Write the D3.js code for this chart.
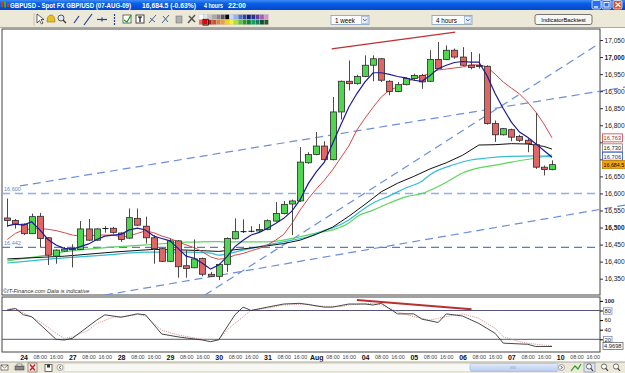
<!DOCTYPE html>
<html><head><meta charset="utf-8">
<script src="https://cdnjs.cloudflare.com/ajax/libs/d3/7.8.5/d3.min.js"></script>
<style>
body{margin:0;padding:0;background:#fff;overflow:hidden}
svg{display:block;font-family:"Liberation Sans",Arial,sans-serif}
</style></head><body>
<svg id="c" width="625" height="373"></svg>
<script>
// ---------------- DATA ----------------
const open  = [16528,16521,16510,16482,16533,16470,16416,16431,16435,16436,16496,16463,16496,16498,16484,16469,16527,16504,16470,16438,16401,16461,16388,16382,16409,16363,16357,16392,16467,16488,16488,16490,16494,16519,16541,16569,16578,16690,16714,16739,16699,16839,16929,16922,16943,16976,16995,16929,16899,16919,16937,16946,16929,16993,16993,17020,17000,16976,16975,16973,16805,16772,16787,16767,16756,16743,16677,16670];
const high  = [16585,16525,16512,16541,16543,16472,16436,16443,16451,16519,16525,16498,16504,16502,16486,16556,16556,16532,16478,16440,16468,16463,16434,16465,16412,16370,16394,16471,16527,16524,16504,16510,16524,16575,16578,16582,16736,16721,16780,16753,16883,16931,16990,16948,17005,17005,16997,16932,16927,16941,16951,16951,17020,17044,17034,17025,17029,17015,17010,16976,16814,16792,16790,16772,16761,16836,16682,16697];
const low   = [16502,16497,16478,16481,16441,16390,16394,16429,16383,16434,16461,16461,16485,16482,16458,16467,16504,16453,16394,16399,16399,16353,16353,16381,16357,16355,16346,16370,16465,16484,16486,16487,16492,16517,16539,16478,16575,16687,16712,16697,16697,16817,16902,16919,16941,16929,16927,16888,16897,16917,16932,16907,16927,16964,16991,16995,16974,16964,16966,16802,16751,16770,16753,16751,16721,16672,16653,16668];
const close = [16521,16510,16482,16532,16468,16419,16434,16437,16438,16496,16463,16496,16497,16486,16465,16529,16507,16470,16438,16401,16461,16385,16380,16408,16363,16357,16392,16468,16488,16488,16489,16494,16520,16541,16568,16578,16692,16714,16739,16699,16839,16929,16922,16943,16976,16995,16932,16899,16919,16937,16946,16927,16993,16966,17020,17000,16976,16969,16972,16805,16772,16790,16765,16756,16746,16677,16670,16684.5];

const timeLabels = ["24","08:00","16:00","27","08:00","16:00","28","08:00","16:00","29","08:00","16:00","30","08:00","16:00","31","08:00","16:00","Aug","08:00","16:00","04","08:00","16:00","05","08:00","16:00","06","08:00","16:00","07","08:00","16:00","10","08:00","16:00"];
const priceTicks = [17050,17000,16950,16900,16850,16800,16750,16700,16650,16600,16550,16500,16450,16400,16350];
const boldPrices = [17000,16500];
const oscTicks = [100,80,60,40,20];
const oscBoxed = [80,20];

// moving averages
const maNavy = [16505,16510,16507,16517,16493,16465,16449,16439,16437,16444,16452,16465,16475,16478,16480,16493,16498,16493,16475,16468,16461,16439,16416,16410,16395,16378,16390,16414,16444,16463,16478,16486,16498,16512,16527,16548,16581,16628,16663,16692,16746,16800,16853,16893,16927,16954,16954,16949,16943,16939,16932,16929,16946,16966,16976,16984,16987,16985,16985,16946,16893,16849,16809,16780,16765,16746,16726,16706];
const maRed = [16465,16483,16493,16496,16497,16495,16491,16485,16478,16475,16476,16478,16478,16478,16473,16475,16483,16490,16485,16475,16468,16458,16449,16441,16429,16414,16407,16410,16419,16424,16432,16439,16449,16463,16480,16512,16551,16584,16613,16639,16669,16704,16739,16786,16821,16853,16883,16903,16912,16927,16936,16944,16953,16962,16965,16968,16971,16977,16977,16971,16950,16927,16909,16892,16868,16839,16804,16763];
const blackIdx = [0,7,13,18,22,26,30,34,36,38,40,42,44,46,48,50,52,54,56,58,60,62,64,66,67];
const blackVal = [16408,16416,16428,16436,16434,16430,16440,16453,16463,16480,16501,16533,16568,16605,16630,16650,16672,16690,16712,16742,16743,16746,16745,16738,16730];
const cyanIdx = [0,7,12,17,22,25,26,29,32,35,37,39,40,42,43,45,47,49,51,52,55,57,59,62,65,67];
const cyanVal = [16396,16411,16419,16428,16428,16425,16419,16434,16449,16463,16473,16492,16499,16522,16540,16572,16593,16616,16636,16655,16685,16698,16704,16709,16710,16707];
const greenIdx = [0,4,7,11,17,22,25,27,32,34,36,38,40,42,43,45,47,49,51,54,56,58,60,62,65,67];
const greenVal = [16402,16416,16429,16439,16449,16457,16459,16458,16458,16463,16473,16484,16493,16513,16532,16551,16572,16590,16600,16633,16660,16675,16683,16692,16704,16713];

// stochastic oscillator
const kIdx = [0,1,2,3,6,7,8,11,12,14,16,17,19,21,24,25,26,28,29,30,32,34,36,39,40,42,44,45,46,48,50,51,53,54,56,58,60,61,64,65,67];
const kVal = [81,84,71,67,20,18.5,22,60,71,66,73,71,31,25,18.5,15,19,71,87,80,87,93.5,95,87,87,93.5,93.5,91.5,95,73,73,62,55,73,68.5,53,32.5,12,9.6,5,4.9698];
const dIdx = [0,1,2,4,6,7,8,10,11,13,15,16,17,19,21,24,26,27,29,30,32,34,37,38,41,42,45,46,48,50,52,53,55,56,58,60,61,63,64,66,67];
const dVal = [82.5,84.6,75,57,32.5,22,25,39,53,66,68.5,72,68.5,39,29,20,18.5,39,67,81,85,91.5,93.5,89.5,88,91.5,95,91.5,77.5,67,60,63.7,70.6,72.7,63.7,43,25.4,15,11.7,8,6.7];

// drawn annotations: [idxStart, priceStart, idxEnd, priceEnd]
const hLines = [16600, 16442];
const channelUpper = [1.56,16622,76,16912];
const channelLower = [12.0,16302,76,16566];
const steepLine    = [24.3,16302,72.9,17041];
const resistLine   = [39.9,17024,55.1,17073];
const oscDivLine   = [43.0,101.9,57.1,82.5];

// ---------------- LAYOUT ----------------
const svg = d3.select("#c");
const PL=2, PR=600, PT=29, PB=295, OT=297, OB=352;
const x  = d3.scaleLinear().domain([0,73]).range([7.3,600.8]);
const y  = d3.scaleLinear().domain([16350,17050]).range([278.7,40]);
const yo = d3.scaleLinear().domain([0,100]).range([348.9,300.9]);

svg.append("rect").attr("width",625).attr("height",373).attr("fill","#fff");

const defs = svg.append("defs");
const tg = defs.append("linearGradient").attr("id","tb").attr("x1",0).attr("y1",0).attr("x2",0).attr("y2",1);
tg.append("stop").attr("offset","0%").attr("stop-color","#3d8bf5");
tg.append("stop").attr("offset","35%").attr("stop-color","#0a5fe6");
tg.append("stop").attr("offset","100%").attr("stop-color","#0446c9");
defs.append("clipPath").attr("id","mainclip").append("rect").attr("x",PL).attr("y",PT).attr("width",625-PL).attr("height",PB-PT);
defs.append("clipPath").attr("id","plotclip").append("rect").attr("x",PL).attr("y",PT).attr("width",PR-PL).attr("height",PB-PT);
const sg = defs.append("linearGradient").attr("id","thumb").attr("x1",0).attr("y1",0).attr("x2",0).attr("y2",1);
sg.append("stop").attr("offset","0%").attr("stop-color","#e3ecfb");
sg.append("stop").attr("offset","100%").attr("stop-color","#b5cbf0");

// ---------- title bar ----------
svg.append("rect").attr("x",0).attr("y",0).attr("width",625).attr("height",10).attr("fill","url(#tb)");
svg.append("rect").attr("x",1).attr("y",2).attr("width",2).attr("height",5).attr("fill","#e03030");
svg.append("rect").attr("x",4).attr("y",1.5).attr("width",2).attr("height",6).attr("fill","#20c020");
svg.append("rect").attr("x",7).attr("y",3).attr("width",2).attr("height",4).attr("fill","#e03030");
const tt = svg.append("g").attr("font-size",6.8).attr("font-weight","bold").attr("fill","#fff");
[["GBPUSD - Spot FX GBP/USD (07-AUG-09)",10,121],["16,684.5 (-0.63%)",142,54],["4 hours",204,19],["22:00",228,18]].forEach(([t,tx,tl])=>{
  tt.append("text").attr("x",tx).attr("y",7.8).attr("textLength",tl).attr("lengthAdjust","spacingAndGlyphs").text(t);
});
[[592,"#2a6ff0"],[602,"#2a6ff0"],[613,"#e0502a"]].forEach(([bx,c])=>{
  svg.append("rect").attr("x",bx).attr("y",0.5).attr("width",9).attr("height",8.5).attr("rx",1.5).attr("fill",c).attr("stroke","#fff").attr("stroke-width",0.7);
});
svg.append("line").attr("x1",594).attr("x2",598).attr("y1",7).attr("y2",7).attr("stroke","#fff").attr("stroke-width",1.3);
svg.append("rect").attr("x",604).attr("y",2.5).attr("width",5).attr("height",4.5).attr("fill","none").attr("stroke","#fff").attr("stroke-width",0.9);
svg.append("path").attr("d","M615.5,2.5L620.5,7M620.5,2.5L615.5,7").attr("stroke","#fff").attr("stroke-width",1.3);

// ---------- toolbar ----------
svg.append("rect").attr("x",0).attr("y",10).attr("width",625).attr("height",18).attr("fill","#ece9d8");
svg.append("line").attr("x1",0).attr("x2",625).attr("y1",27.5).attr("y2",27.5).attr("stroke","#aca899");
svg.append("line").attr("x1",34).attr("x2",34).attr("y1",13).attr("y2",26).attr("stroke","#c8c4b0");
const tb = svg.append("g");
tb.append("path").attr("d","M37,14 L37,23 L39.5,20.5 L41.5,24 L43,23 L41,19.5 L44,19.5 Z").attr("fill","#fff").attr("stroke","#000").attr("stroke-width",0.6);
tb.append("path").attr("d","M47,22 Q47,15 51,15 Q55,15 55,22 Z").attr("fill","#e8c020").attr("stroke","#806000").attr("stroke-width",0.5);
tb.append("circle").attr("cx",61).attr("cy",18).attr("r",3).attr("fill","#dfe8f8").attr("stroke","#333").attr("stroke-width",0.8);
tb.append("line").attr("x1",63).attr("y1",20).attr("x2",66).attr("y2",23).attr("stroke","#333").attr("stroke-width",1.3);
tb.append("line").attr("x1",74).attr("y1",23).attr("x2",79).attr("y2",16).attr("stroke","#2040a0").attr("stroke-width",1.2);
tb.append("line").attr("x1",84).attr("y1",25).attr("x2",92).attr("y2",14).attr("stroke","#2040a0").attr("stroke-width",1.2);
tb.append("line").attr("x1",97).attr("y1",19.5).attr("x2",107).attr("y2",19.5).attr("stroke","#2040a0").attr("stroke-width",1.2);
tb.append("line").attr("x1",102).attr("y1",17.5).attr("x2",102).attr("y2",21.5).attr("stroke","#2040a0").attr("stroke-width",1.2);
tb.append("line").attr("x1",114.5).attr("y1",14).attr("x2",114.5).attr("y2",25).attr("stroke","#2040a0").attr("stroke-width",1.2).attr("stroke-dasharray","2,1");
tb.append("rect").attr("x",123).attr("y",15).attr("width",8).attr("height",8).attr("fill","#fff").attr("stroke","#333").attr("stroke-width",0.7);
tb.append("path").attr("d","M124,20 L127,22 L131,15").attr("fill","none").attr("stroke","#20a020").attr("stroke-width",1.3);
tb.append("rect").attr("x",136).attr("y",15).attr("width",8).attr("height",8).attr("fill","#fff").attr("stroke","#333").attr("stroke-width",0.9);
tb.append("path").attr("d","M138,17 h4 M140,17 v5").attr("stroke","#000").attr("stroke-width",1.2);
tb.append("path").attr("d","M149,23 L156,15 M150,18 L155,22").attr("stroke","#4060a0").attr("stroke-width",1);
tb.append("path").attr("d","M162,23 L169,15 M163,16 L168,22").attr("stroke","#4060a0").attr("stroke-width",1);
tb.append("rect").attr("x",176).attr("y",16).attr("width",6).attr("height",7).attr("fill","#b0b0b0").attr("stroke","#666").attr("stroke-width",0.5);
tb.append("path").attr("d","M188,23 L195,15 M189,16 L195,22").attr("stroke","#555").attr("stroke-width",1.5);
const pal1 = ["#ffffff","#e6e6e6","#c8c8c8","#a8a8a8","#888888","#585858","#000000","#c8d8f8","#90b0f0","#5070d0","#2848b0","#102080","#303090","#6040a0","#a060b0","#e090c8"];
const pal2 = ["#ff6060","#e00000","#b02020","#d05030","#e08040","#f0a030","#f8d020","#f8f040","#b0e040","#60c030","#20a020","#108030","#10a060","#108060","#105030","#206020"];
svg.append("g").selectAll("rect").data(pal1).join("rect").attr("x",(d,i)=>199+i*4.35).attr("y",14.5).attr("width",4.1).attr("height",4.8).attr("fill",d=>d).attr("stroke","#bbb").attr("stroke-width",0.3);
svg.append("g").selectAll("rect").data(pal2).join("rect").attr("x",(d,i)=>199+i*4.35).attr("y",19.8).attr("width",4.1).attr("height",4.8).attr("fill",d=>d).attr("stroke","#bbb").attr("stroke-width",0.3);
svg.append("rect").attr("x",203).attr("y",19.3).attr("width",5.2).attr("height",5.8).attr("fill","none").attr("stroke","#000").attr("stroke-width",0.8);
function dropdown(x0,w,label){
  svg.append("rect").attr("x",x0).attr("y",15.5).attr("width",w).attr("height",9).attr("fill","#fff").attr("stroke","#7f9db9").attr("stroke-width",0.8);
  svg.append("text").attr("x",x0+4).attr("y",22.5).attr("font-size",6.3).attr("fill","#000").text(label);
  svg.append("rect").attr("x",x0+w-7.5).attr("y",16.5).attr("width",6.5).attr("height",7).attr("fill","#e6eefc").attr("stroke","#8aa6d6").attr("stroke-width",0.6);
  svg.append("path").attr("d",`M${x0+w-6},19 L${x0+w-4.2},21 L${x0+w-2.4},19`).attr("fill","none").attr("stroke","#4d6185").attr("stroke-width",0.9);
}
dropdown(331,38,"1 week");
dropdown(432,40,"4 hours");
svg.append("rect").attr("x",535).attr("y",14.5).attr("width",57).attr("height",10).attr("rx",2).attr("fill","#f6f6f2").attr("stroke","#555").attr("stroke-width",0.8);
svg.append("text").attr("x",563.5).attr("y",21.8).attr("text-anchor","middle").attr("font-size",5.8).attr("fill","#000").text("IndicatorBacktest");

// ---------- main frame ----------
svg.append("rect").attr("x",PL).attr("y",PT).attr("width",PR-PL).attr("height",PB-PT).attr("fill","#fff").attr("stroke","#444").attr("stroke-width",1);

const hg = svg.append("g").attr("clip-path","url(#plotclip)");
hg.selectAll("line").data(hLines).join("line")
  .attr("x1",PL).attr("x2",PR).attr("y1",d=>y(d)).attr("y2",d=>y(d))
  .attr("stroke",(d,i)=>i===0?"#8fb0ec":"#5a7cc4")
  .attr("stroke-width",(d,i)=>i===0?1.6:1.1)
  .attr("stroke-dasharray","8,5");
svg.selectAll(".hlab").data(hLines).join("text").attr("class","hlab")
  .attr("x",4).attr("y",d=>y(d)-2).attr("font-size",5.5).attr("fill","#6a84b8")
  .text(d=>d3.format(",")(d));

const dg = svg.append("g").attr("clip-path","url(#mainclip)");
[channelUpper,channelLower,steepLine].forEach(l=>{
  dg.append("line").attr("x1",x(l[0])).attr("y1",y(l[1])).attr("x2",x(l[2])).attr("y2",y(l[3]))
   .attr("stroke","#6b8fd8").attr("stroke-width",1.2).attr("stroke-dasharray","8,5");
});
dg.append("line").attr("x1",x(resistLine[0])).attr("y1",y(resistLine[1])).attr("x2",x(resistLine[2])).attr("y2",y(resistLine[3]))
  .attr("stroke","#c03030").attr("stroke-width",1.4);

const pg = svg.append("g").attr("clip-path","url(#plotclip)");
const lineP = d3.line().x(d=>x(d[0])).y(d=>y(d[1])).curve(d3.curveMonotoneX);
const lineL = d3.line().x(d=>x(d[0])).y(d=>y(d[1]));
const zip = (a,b)=>a.map((v,i)=>[v,b[i]]);
pg.append("path").attr("d",lineP(zip(greenIdx,greenVal))).attr("fill","none").attr("stroke","#5cd65c").attr("stroke-width",1.2);
pg.append("path").attr("d",lineP(zip(cyanIdx,cyanVal))).attr("fill","none").attr("stroke","#33bcd6").attr("stroke-width",1.2);
pg.append("path").attr("d",lineL(zip(blackIdx,blackVal))).attr("fill","none").attr("stroke","#111").attr("stroke-width",1);
pg.append("path").attr("d",lineL(maRed.map((v,i)=>[i,v]))).attr("fill","none").attr("stroke","#d44a4a").attr("stroke-width",1);

const candles = open.map((o,i)=>({i,o,h:high[i],l:low[i],c:close[i]}));
const cg = pg.append("g");
cg.selectAll(".wick").data(candles).join("line").attr("class","wick")
  .attr("x1",d=>Math.round(x(d.i))+0.5).attr("x2",d=>Math.round(x(d.i))+0.5)
  .attr("y1",d=>y(d.h)).attr("y2",d=>y(d.l)).attr("stroke","#4a4a4a").attr("stroke-width",1);
cg.selectAll(".body").data(candles).join("rect").attr("class","body")
  .attr("x",d=>Math.round(x(d.i))-2.5).attr("width",6)
  .attr("y",d=>Math.abs(d.c-d.o)<2 ? y(Math.max(d.o,d.c))-0.5 : y(Math.max(d.o,d.c)))
  .attr("height",d=>Math.max(1,Math.abs(y(d.o)-y(d.c))))
  .attr("fill",d=>Math.abs(d.c-d.o)<2 ? "#111" : (d.c>d.o ? "#4fd64f" : "#e06666"))
  .attr("stroke",d=>Math.abs(d.c-d.o)<2 ? "none" : "#2b2b2b").attr("stroke-width",0.8);

pg.append("path").attr("d",lineL(maNavy.map((v,i)=>[i,v]))).attr("fill","none").attr("stroke","#1c1c94").attr("stroke-width",1.2);

svg.append("text").attr("x",3).attr("y",292.5).attr("font-size",5.6).attr("font-style","italic").attr("fill","#333")
  .text("©IT-Finance.com  Data is indicative");

// last-value labels on the price axis (computed first to hide covered ticks)
const lastLabels = [
  {v:maRed[maRed.length-1], t:d3.format(",.0f")(maRed[maRed.length-1]), stroke:"#c84040", fill:"#fff", col:"#a03030"},
  {v:blackVal[blackVal.length-1], t:d3.format(",.0f")(blackVal[blackVal.length-1]), stroke:"#777", fill:"#fff", col:"#222"},
  {v:maNavy[maNavy.length-1], t:d3.format(",.0f")(maNavy[maNavy.length-1]), stroke:"#3050c0", fill:"#fff", col:"#203070"},
  {v:close[close.length-1], t:d3.format(",.1f")(close[close.length-1]), stroke:"#c08000", fill:"#f5a800", col:"#000"}
];
lastLabels.forEach(d=>d.py=y(d.v));
for(let k=lastLabels.length-2;k>=0;k--){ if(lastLabels[k].py>lastLabels[k+1].py-8.4) lastLabels[k].py=lastLabels[k+1].py-8.4; }

const ya = svg.append("g").attr("transform",`translate(${PR},0)`)
  .call(d3.axisRight(y).tickValues(priceTicks).tickSize(3).tickPadding(1.5).tickFormat(d3.format(",")));
ya.select(".domain").remove();
ya.selectAll("text").attr("font-size",6.6).attr("fill","#222").attr("font-family","Liberation Sans, Arial, sans-serif")
  .attr("font-weight",d=>boldPrices.includes(d)?"bold":"normal");
ya.selectAll("line").attr("stroke","#333");
ya.selectAll(".tick").filter(d=>lastLabels.some(l=>Math.abs(y(d)-l.py)<8)).select("text").remove();

const lg = svg.append("g");
lastLabels.forEach((d,k)=>{
  const w = k===3?23:20;
  lg.append("rect").attr("x",602.5).attr("y",d.py-4).attr("width",w).attr("height",8).attr("fill",d.fill).attr("stroke",d.stroke).attr("stroke-width",0.8);
  lg.append("text").attr("x",603.6).attr("y",d.py+2.3).attr("font-size",k===3?5.4:6.1).attr("fill",d.col)
    .attr("textLength",k===3?20.5:17.5).attr("lengthAdjust","spacingAndGlyphs").text(d.t);
});

// ---------- oscillator ----------
svg.append("rect").attr("x",PL).attr("y",OT).attr("width",PR-PL).attr("height",OB-OT).attr("fill","#fff").attr("stroke","#444").attr("stroke-width",1);
svg.selectAll(".olev").data(oscBoxed).join("line").attr("class","olev")
  .attr("x1",PL).attr("x2",PR).attr("y1",d=>yo(d)).attr("y2",d=>yo(d)).attr("stroke","#55557a").attr("stroke-width",1);
const ol = d3.line().x(d=>x(d[0])).y(d=>yo(d[1]));
svg.append("path").attr("d",ol(zip(dIdx,dVal))).attr("fill","none").attr("stroke","#d08a8a").attr("stroke-width",0.9).attr("stroke-dasharray","1.2,1");
svg.append("path").attr("d",ol(zip(kIdx,kVal))).attr("fill","none").attr("stroke","#333").attr("stroke-width",0.9);
svg.append("line").attr("x1",x(oscDivLine[0])).attr("y1",yo(oscDivLine[1])).attr("x2",x(oscDivLine[2])).attr("y2",yo(oscDivLine[3]))
  .attr("stroke","#b83030").attr("stroke-width",2);

const oa = svg.append("g").attr("transform",`translate(${PR},0)`)
  .call(d3.axisRight(yo).tickValues(oscTicks).tickSize(3).tickPadding(1.5).tickFormat(d3.format("d")));
oa.select(".domain").remove();
oa.selectAll("text").attr("font-size",5.8).attr("fill","#222").attr("font-family","Liberation Sans, Arial, sans-serif").attr("font-weight",d=>d===100?"bold":"normal");
oa.selectAll(".tick").filter(d=>oscBoxed.includes(d)).insert("rect","text").attr("x",3.5).attr("y",-3.2).attr("width",8.5).attr("height",6.4).attr("fill","#fff").attr("stroke","#6a80b8").attr("stroke-width",0.7);
const lastK = kVal[kVal.length-1];
svg.append("rect").attr("x",603).attr("y",342.6).attr("width",20).attr("height",6.8).attr("fill","#fff").attr("stroke","#555").attr("stroke-width",0.7);
svg.append("text").attr("x",604).attr("y",348).attr("font-size",5.4).attr("fill","#222")
  .attr("textLength",17.5).attr("lengthAdjust","spacingAndGlyphs").text(d3.format(".4f")(lastK));

// ---------- time axis ----------
const tIdx = timeLabels.map((t,i)=>2+i*2);
const xa = svg.append("g").attr("transform",`translate(0,${OB})`)
  .call(d3.axisBottom(x).tickValues(tIdx).tickSize(0).tickPadding(3).tickFormat((d,i)=>timeLabels[i]));
xa.select(".domain").remove();
xa.selectAll("text").attr("font-family","Liberation Sans, Arial, sans-serif")
  .attr("font-size",(d,i)=>timeLabels[i].includes(":")?5.4:7)
  .attr("font-weight",(d,i)=>timeLabels[i].includes(":")?"normal":"bold")
  .attr("fill",(d,i)=>timeLabels[i].includes(":")?"#444":"#111");

// ---------- bottom bar ----------
svg.append("rect").attr("x",0).attr("y",362).attr("width",625).attr("height",11).attr("fill","#ece9d8");
svg.append("line").attr("x1",0).attr("x2",625).attr("y1",362).attr("y2",362).attr("stroke","#aca899");
const bb = svg.append("g");
bb.append("rect").attr("x",1).attr("y",365).attr("width",7).attr("height",5).attr("fill","#fff").attr("stroke","#333").attr("stroke-width",0.6);
bb.append("path").attr("d","M1,365 L4.5,368 L8,365").attr("fill","none").attr("stroke","#333").attr("stroke-width",0.6);
bb.append("rect").attr("x",15).attr("y",366).attr("width",9).attr("height",4).attr("fill","#888").attr("stroke","#333").attr("stroke-width",0.5);
bb.append("rect").attr("x",17).attr("y",364).attr("width",5).attr("height",2).attr("fill","#fff").attr("stroke","#333").attr("stroke-width",0.5);
bb.append("rect").attr("x",28).attr("y",363).attr("width",9).attr("height",9).attr("fill","#f4f2ea").attr("stroke","#555").attr("stroke-width",0.6);
bb.append("path").attr("d","M30,364.5 L35,370.5 M35,364.5 L30,370.5").attr("stroke","#d02020").attr("stroke-width",1.5);
bb.append("rect").attr("x",45).attr("y",364.5).attr("width",7).attr("height",7).attr("fill","#fff").attr("stroke","#333").attr("stroke-width",0.7);
bb.append("rect").attr("x",47).attr("y",364.5).attr("width",3).attr("height",3).attr("fill","#333");
bb.append("circle").attr("cx",60).attr("cy",367.5).attr("r",3).attr("fill","#f4f4f4").attr("stroke","#777").attr("stroke-width",0.6);
bb.append("path").attr("d","M61,366 L59,367.5 L61,369").attr("fill","none").attr("stroke","#333").attr("stroke-width",0.7);
bb.append("rect").attr("x",64).attr("y",363.5).attr("width",495).attr("height",8).attr("fill","#f7f7f3").attr("stroke","#d0cdc0").attr("stroke-width",0.5);
bb.append("rect").attr("x",470).attr("y",363.5).attr("width",88).attr("height",8).attr("rx",2).attr("fill","url(#thumb)").attr("stroke","#9cb6e4").attr("stroke-width",0.6);
bb.append("path").attr("d","M511,366 v3 M513,366 v3 M515,366 v3").attr("stroke","#8aa2d0").attr("stroke-width",0.7);
bb.append("circle").attr("cx",561.5).attr("cy",367.5).attr("r",3).attr("fill","#f4f4f4").attr("stroke","#777").attr("stroke-width",0.6);
bb.append("path").attr("d","M560.5,366 L562.5,367.5 L560.5,369").attr("fill","none").attr("stroke","#333").attr("stroke-width",0.7);
bb.append("path").attr("d","M571,371 L575,366 L578,369 L581,364").attr("fill","none").attr("stroke","#20a020").attr("stroke-width",1.2);
bb.append("rect").attr("x",584).attr("y",363).attr("width",11).attr("height",9).attr("fill","#dde6f6").attr("stroke","#7080a0").attr("stroke-width",0.6);
[589,604,616].forEach(cx=>{
  bb.append("circle").attr("cx",cx).attr("cy",366.5).attr("r",2.6).attr("fill","#fff").attr("stroke","#333").attr("stroke-width",0.7);
  bb.append("line").attr("x1",cx+1.8).attr("y1",368.3).attr("x2",cx+4).attr("y2",370.8).attr("stroke","#333").attr("stroke-width",1.1);
});
</script>
</body></html>
